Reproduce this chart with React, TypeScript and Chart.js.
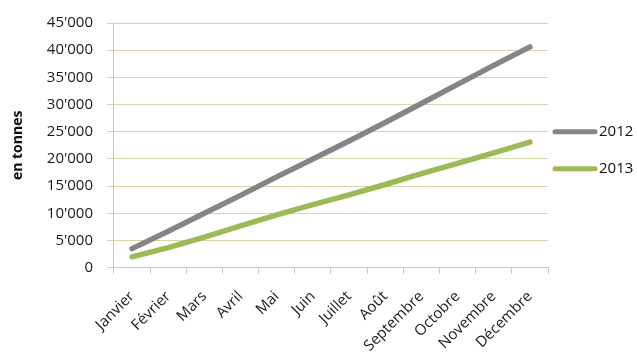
import React, { useEffect, useRef } from "react";
import { Chart, registerables } from "chart.js";

Chart.register(...registerables);

const months = ["Janvier", "Février", "Mars", "Avril", "Mai", "Juin", "Juillet", "Août", "Septembre", "Octobre", "Novembre", "Décembre"];
const values2012 = [3500, 6700, 10000, 13300, 16700, 20000, 23300, 26700, 30200, 33700, 37200, 40600];
const values2013 = [2000, 3700, 5600, 7700, 9700, 11600, 13400, 15300, 17300, 19200, 21100, 23100];
const seriesNames = ["2012", "2013"];
const seriesColors = ["#858585", "#9bbb59"];
const yTitle = "en tonnes";

const FONT = "'Open Sans', sans-serif";

function fmt(v: number): string {
  return String(v).replace(/\B(?=(\d{3})+(?!\d))/g, "'");
}

const sideLegend = {
  id: "sideLegend",
  afterDraw(chart: any) {
    const { ctx, chartArea } = chart;
    const x0 = chartArea.right + 5;
    const boxW = 44;
    const yc = (chartArea.top + chartArea.bottom) / 2;
    const gap = 37;
    ctx.save();
    chart.data.datasets.forEach((ds: any, i: number) => {
      const y = yc + 5 + (i - 0.5) * gap;
      ctx.strokeStyle = ds.borderColor;
      ctx.lineWidth = 5;
      ctx.lineCap = "round";
      ctx.beginPath();
      ctx.moveTo(x0 + 2, y);
      ctx.lineTo(x0 + boxW - 2, y);
      ctx.stroke();
      ctx.fillStyle = "#111";
      ctx.font = `15px ${FONT}`;
      ctx.textBaseline = "middle";
      ctx.textAlign = "left";
      ctx.fillText(ds.label, x0 + boxW + 2, y);
    });
    ctx.restore();
  },
};

export default function App() {
  const ref = useRef<HTMLCanvasElement | null>(null);
  useEffect(() => {
    document.body.style.margin = "0";
    const ctx = ref.current!;
    const chart = new Chart(ctx, {
      type: "line",
      data: {
        labels: months,
        datasets: [
          {
            label: seriesNames[0],
            data: values2012,
            borderColor: seriesColors[0],
            backgroundColor: seriesColors[0],
            borderWidth: 5.5,
            pointRadius: 0,
            borderCapStyle: "round",
            tension: 0,
          },
          {
            label: seriesNames[1],
            data: values2013,
            borderColor: seriesColors[1],
            backgroundColor: seriesColors[1],
            borderWidth: 5.5,
            pointRadius: 0,
            borderCapStyle: "round",
            tension: 0,
          },
        ],
      },
      options: {
        responsive: false,
        animation: false,
        layout: { padding: { top: 4, right: 89, left: 4, bottom: -11 } },
        plugins: {
          tooltip: { enabled: false },
          legend: { display: false },
        },
        scales: {
          x: {
            offset: true,
            afterFit: (scale: any) => {
              scale.paddingLeft = 0;
              scale.paddingRight = 0;
            },
            grid: {
              offset: true,
              drawOnChartArea: false,
              drawTicks: true,
              tickLength: 6,
              color: "#c9cfa0",
            },
            border: { color: "#c9cfa0", width: 1 },
            ticks: {
              minRotation: 45,
              maxRotation: 45,
              color: "#1a1a1a",
              font: { family: FONT, size: 15 },
              padding: 14,
            },
          },
          y: {
            min: 0,
            max: 45000,
            grid: {
              color: "#d3d8ab",
              tickLength: 7,
              lineWidth: 1,
            },
            border: { color: "#c9cfa0", width: 1 },
            ticks: {
              stepSize: 5000,
              color: "#1a1a1a",
              font: { family: FONT, size: 15 },
              padding: 14,
              callback: (v: any) => fmt(Number(v)),
            },
            title: {
              display: true,
              text: yTitle,
              color: "#111",
              font: { family: FONT, size: 14, weight: "bold" },
              padding: 6,
            },
          },
        },
      },
      plugins: [sideLegend],
    });
    return () => chart.destroy();
  }, []);
  return <canvas ref={ref} width={637} height={358} style={{ display: "block" }} />;
}
